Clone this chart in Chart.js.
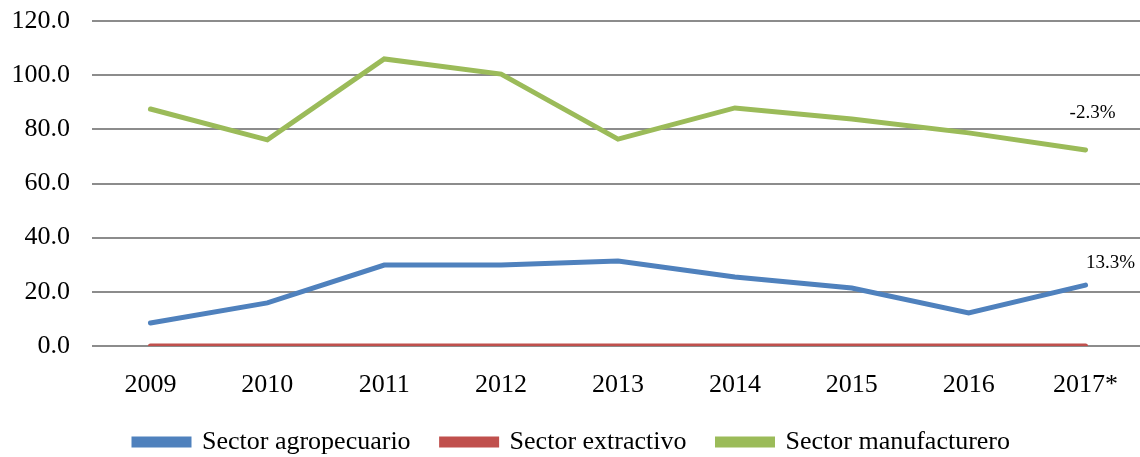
<!DOCTYPE html>
<html>
<head>
<meta charset="utf-8">
<script src="https://cdn.jsdelivr.net/npm/chart.js@4"></script>
<style>
  html, body { margin: 0; padding: 0; background: #fff; }
  #wrap { width: 1140px; height: 457px; overflow: hidden; }
</style>
</head>
<body>
<div id="wrap"><canvas id="chart" width="1144" height="457"></canvas></div>
<script>
// ── Data ──────────────────────────────────────────────────────────────────────
const years = ['2009', '2010', '2011', '2012', '2013', '2014', '2015', '2016', '2017*'];
const agro = [8.5, 15.9, 29.9, 29.9, 31.4, 25.5, 21.4, 12.2, 22.5];
const extractivo = [0, 0, 0, 0, 0, 0, 0, 0, 0];
const manufactura = [87.5, 76.1, 106.0, 100.4, 76.4, 87.9, 83.8, 78.7, 72.4];
const endLabels = ['13.3%', '', '-2.3%'];

const FONT = "'Liberation Serif', 'Times New Roman', serif";
// label offsets from the last point of each line (dx, dy to text centre)
const LABEL_OFFSETS = [[25, -22], [0, 0], [7, -37]];

// ── End-of-line labels ───────────────────────────────────────────────────────
const endLabelPlugin = {
  id: 'endLabels',
  afterDatasetsDraw(chart) {
    const ctx = chart.ctx;
    ctx.save();
    ctx.font = `19px ${FONT}`;
    ctx.fillStyle = '#000';
    ctx.textAlign = 'center';
    ctx.textBaseline = 'middle';
    chart.data.datasets.forEach((ds, i) => {
      const txt = endLabels[i];
      if (!txt) return;
      const meta = chart.getDatasetMeta(i);
      const pt = meta.data[meta.data.length - 1];
      const [dx, dy] = LABEL_OFFSETS[i];
      ctx.fillText(txt, pt.x + dx, pt.y + dy);
    });
    ctx.restore();
  },
};

const line = (label, data, color) => ({
  label, data,
  borderColor: color,
  backgroundColor: color,
  borderWidth: 5,
  pointRadius: 0,
  tension: 0,
  borderCapStyle: 'round',
});

new Chart(document.getElementById('chart'), {
  type: 'line',
  data: {
    labels: years,
    datasets: [
      line('Sector agropecuario', agro, '#4F81BD'),
      line('Sector extractivo', extractivo, '#C0504D'),
      line('Sector manufacturero', manufactura, '#9BBB59'),
    ],
  },
  options: {
    responsive: false,
    animation: false,
    layout: { padding: { left: 0, right: 0, top: 21, bottom: 0 } },
    scales: {
      x: {
        offset: true,
        grid: { display: false },
        border: { display: false },
        ticks: { color: '#000', font: { family: FONT, size: 26, lineHeight: 1 }, padding: 18, maxRotation: 0 },
        afterFit: (s) => { s.height = 52; },
      },
      y: {
        min: 0, max: 120,
        ticks: {
          stepSize: 20,
          color: '#000',
          font: { family: FONT, size: 26 },
          padding: 22,
          callback: (v) => v.toFixed(1),
        },
        grid: { color: '#8c8c8c', lineWidth: 2, drawTicks: false },
        border: { display: false },
        afterFit: (s) => { s.width = 92; s.paddingTop = 0; s.paddingBottom = 0; },
      },
    },
    plugins: {
      legend: {
        position: 'bottom',
        maxHeight: 59,
        labels: {
          color: '#000',
          font: { family: FONT, size: 26 },
          boxWidth: 55,
          boxHeight: 6,
          padding: 31,
        },
      },
      tooltip: { enabled: false },
    },
  },
  plugins: [endLabelPlugin],
});
</script>
</body>
</html>
